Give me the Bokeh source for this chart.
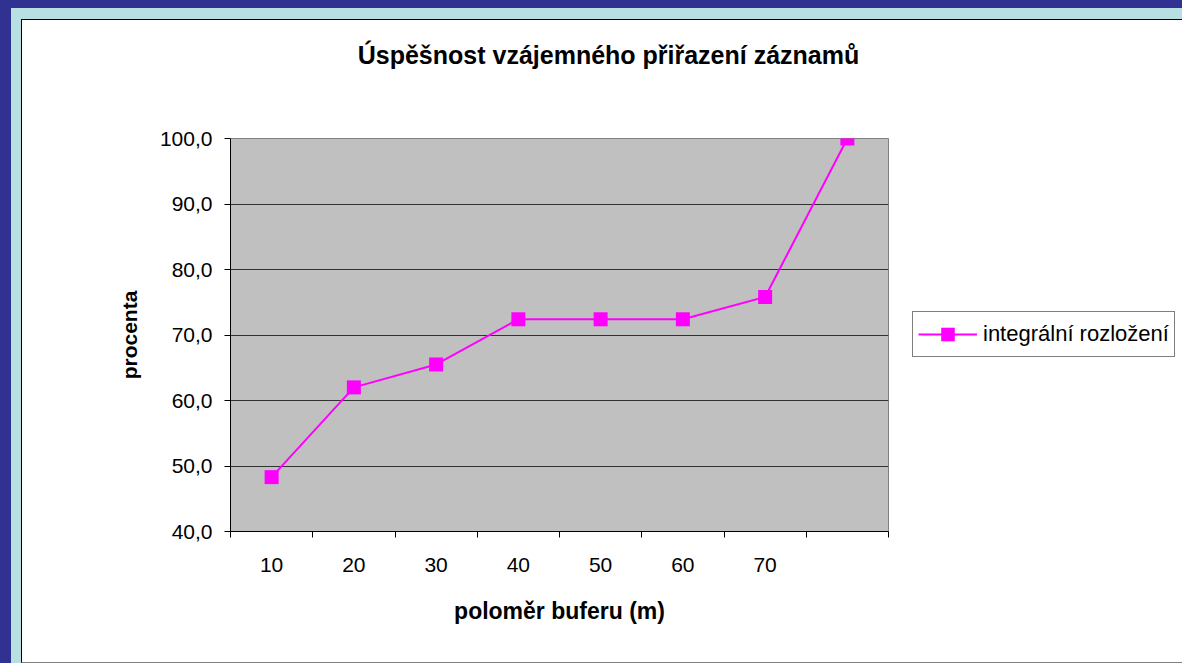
import numpy as np
from bokeh.plotting import figure
from bokeh.models import FixedTicker, Legend, LegendItem, Label
from bokeh.layouts import column, row
from bokeh.embed import file_html
from bokeh.resources import INLINE

# ---- data ----
categories = ["10", "20", "30", "40", "50", "60", "70", ""]
percent = [48.3, 62.0, 65.5, 72.4, 72.4, 72.4, 75.8, 100.0]
y_ticks = [40, 50, 60, 70, 80, 90, 100]
y_tick_labels = ["40,0", "50,0", "60,0", "70,0", "80,0", "90,0", "100,0"]
grid_ticks = [50, 60, 70, 80, 90]
series_name = "integrální rozložení"
title_text = "Úspěšnost vzájemného přiřazení záznamů"
x_title = "poloměr buferu (m)"
y_title = "procenta"

FONT = "Liberation Sans"
MAGENTA = "#FF00FF"

n = len(categories)
xs = [i + 0.5 for i in range(n)]

TITLE_H = 80
MAIN_W = 868
TOTAL_W = 1160
BODY_H = 642 - TITLE_H

# ---- title strip ----
pt = figure(width=TOTAL_W, height=TITLE_H, x_range=(0, 1), y_range=(0, 1),
            x_axis_type=None, y_axis_type=None, min_border=0,
            outline_line_color=None, background_fill_color="white", border_fill_color="white",
            toolbar_location=None, output_backend="svg")
pt.add_layout(Label(x=586, y=46, x_units="screen", y_units="screen", text=title_text,
                    text_align="center", text_baseline="alphabetic",
                    text_font=FONT, text_font_size="25px", text_font_style="bold",
                    text_color="black"))

# ---- main chart ----
p = figure(width=MAIN_W, height=BODY_H, x_range=(0, n), y_range=(40, 100),
           min_border_left=208, min_border_right=2, min_border_top=118 - TITLE_H, min_border_bottom=131,
           background_fill_color="#C0C0C0", border_fill_color="white",
           outline_line_color="#808080", outline_line_width=1,
           toolbar_location=None, output_backend="svg")

xa = p.xaxis[0]
xa.ticker = FixedTicker(ticks=xs, minor_ticks=list(range(n + 1)))
xa.major_label_overrides = {x: c for x, c in zip(xs, categories)}
xa.major_tick_line_color = None
xa.major_tick_out = 0
xa.major_tick_in = 0
xa.minor_tick_in = 0
xa.minor_tick_out = 6
xa.minor_tick_line_color = "black"
xa.axis_line_color = "black"
xa.major_label_text_font = FONT
xa.major_label_text_font_size = "21px"
xa.major_label_text_color = "black"
xa.major_label_standoff = 20
xa.axis_label = x_title
xa.axis_label_text_font = FONT
xa.axis_label_text_font_size = "23px"
xa.axis_label_text_font_style = "bold"
xa.axis_label_text_color = "black"
xa.axis_label_standoff = 23

ya = p.yaxis[0]
ya.ticker = FixedTicker(ticks=y_ticks, minor_ticks=[])
ya.major_label_overrides = {t: l for t, l in zip(y_ticks, y_tick_labels)}
ya.major_tick_in = 0
ya.major_tick_out = 6
ya.major_tick_line_color = "black"
ya.axis_line_color = "black"
ya.major_label_text_font = FONT
ya.major_label_text_font_size = "21px"
ya.major_label_text_color = "black"
ya.major_label_standoff = 12
ya.axis_label = y_title
ya.axis_label_text_font = FONT
ya.axis_label_text_font_size = "21px"
ya.axis_label_text_font_style = "bold"
ya.axis_label_text_color = "black"
ya.axis_label_standoff = 16

p.xgrid.visible = False
p.ygrid.ticker = FixedTicker(ticks=grid_ticks)
p.ygrid.grid_line_color = "#333333"
p.ygrid.grid_line_width = 1

p.line(xs, percent, line_color=MAGENTA, line_width=2)
p.scatter(xs, percent, marker="square", size=14, fill_color=MAGENTA, line_color=None)

# ---- legend strip (series drawn out of view; only its legend entry shows) ----
pl = figure(width=TOTAL_W - MAIN_W, height=BODY_H, x_range=(-2, -1), y_range=(0, 1),
            x_axis_type=None, y_axis_type=None, min_border=0,
            outline_line_color=None, background_fill_color="white", border_fill_color="white",
            toolbar_location=None, output_backend="svg")
lg_line = pl.line(xs, percent, line_color=MAGENTA, line_width=2)
lg_mark = pl.scatter(xs, percent, marker="square", size=14, fill_color=MAGENTA, line_color=None)
legend = Legend(items=[LegendItem(label=series_name, renderers=[lg_line, lg_mark])],
                location=(22, 174), orientation="vertical",
                glyph_width=59, glyph_height=34, label_standoff=6,
                label_text_font=FONT, label_text_font_size="22px", label_text_color="black",
                border_line_color="black", border_line_width=1,
                background_fill_color="white", background_fill_alpha=1,
                padding=5, margin=0, spacing=0)
pl.add_layout(legend, "center")

inner = column(pt, row(p, pl),
               styles={"border-left": "1px solid black", "border-top": "1px solid black",
                       "border-bottom": "1px solid #808080", "background-color": "white"})

page = column(inner, styles={"background-color": "#B8E0E2",
                             "border-left": "11px solid #313192",
                             "border-top": "8px solid #313192",
                             "padding": "11px 0px 0px 10px"})

open("out.html", "w").write(file_html(page, INLINE))
